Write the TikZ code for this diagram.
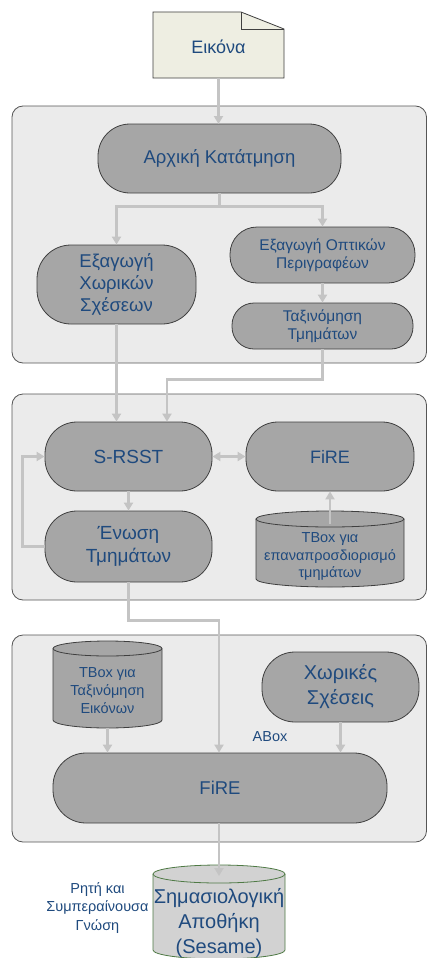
\documentclass[tikz,border=0pt]{standalone}
\usepackage{fontspec}
\setmainfont{Liberation Sans}
\usetikzlibrary{arrows.meta,calc}
\definecolor{txtblue}{HTML}{1F4A7E}
\definecolor{panelfill}{HTML}{EBEBEB}
\definecolor{panelline}{HTML}{555555}
\definecolor{boxfill}{HTML}{A6A6A6}
\definecolor{boxline}{HTML}{3F3F3F}
\definecolor{arrowgray}{HTML}{C4C4C4}
\definecolor{docfill}{HTML}{EEEEE2}
\definecolor{semfill}{HTML}{D2D2D2}
\definecolor{semline}{HTML}{4F7A45}
\tikzset{
  panel/.style={fill=panelfill,draw=panelline,line width=0.8pt,rounded corners=11pt},
  pill/.style={draw=boxline,fill=boxfill,line width=0.8pt,align=center,text=txtblue,inner sep=0pt},
  cylbox/.style={draw=boxline,fill=boxfill,line width=0.8pt},
  lbl/.style={text=txtblue,align=center,inner sep=0pt},
  conn/.style={draw=arrowgray,line width=2.6pt,-{Triangle[width=9pt,length=8pt]}},
  plainconn/.style={draw=arrowgray,line width=2.6pt},
  dconn/.style={draw=arrowgray,line width=2.6pt,{Triangle[width=9pt,length=8pt]}-{Triangle[width=9pt,length=8pt]}},
}
\begin{document}
\begin{tikzpicture}[x=1pt,y=-1pt]
\clip (0,0) rectangle (427,958);
\useasboundingbox (0,0) rectangle (427,958);
\fill[white] (0,0) rectangle (427,958);

% panels
\path[panel] (12,106) rectangle (426.5,363);
\path[panel] (12,394) rectangle (426.5,600);
\path[panel] (12,635) rectangle (426.5,842);

% document
\draw[fill=docfill,draw=boxline,line width=0.8pt] (153,12) -- (241,12) -- (284,29) -- (284,78) -- (153,78) -- cycle;
\draw[boxline,line width=0.8pt] (241,12) -- (241,29) -- (284,29);
\node[lbl,font=\fontsize{18}{20}\selectfont] (eikona) at (218.5,47) {Εικόνα};
\coordinate (eikonab) at (218.5,78);

% panel 1 nodes
\node[pill,rounded corners=32pt,minimum width=243pt,minimum height=69pt,font=\fontsize{18.5}{21}\selectfont] (arxiki) at (219.5,158.5) {Αρχική Κατάτμηση};
\node[pill,rounded corners=34pt,minimum width=159pt,minimum height=79pt,font=\fontsize{18.5}{22}\selectfont] (xwr) at (116.5,284.5) {Εξαγωγή\\Χωρικών\\Σχέσεων};
\node[pill,rounded corners=27pt,minimum width=185pt,minimum height=56pt,font=\fontsize{15.5}{18}\selectfont] (opt) at (322.5,255) {Εξαγωγή Οπτικών\\Περιγραφέων};
\node[pill,rounded corners=22pt,minimum width=181pt,minimum height=46pt,font=\fontsize{15.5}{18}\selectfont] (tax) at (322.5,326) {Ταξινόμηση\\Τμημάτων};

% panel 2 nodes
\node[pill,rounded corners=32pt,minimum width=167pt,minimum height=69pt,font=\fontsize{19}{22}\selectfont] (srsst) at (128.5,456.5) {S-RSST};
\node[pill,rounded corners=32pt,minimum width=168pt,minimum height=69pt,font=\fontsize{18}{22}\selectfont] (fire) at (330,456.5) {FiRE};
\node[pill,rounded corners=32pt,minimum width=167pt,minimum height=71pt,font=\fontsize{19}{23}\selectfont] (enosi) at (128.5,546.5) {Ένωση\\Τμημάτων};

% cylinder 1
\fill[boxfill] (256,519) -- (256,579) arc[start angle=180,end angle=0,x radius=74,y radius=8] -- (404,519) -- cycle;
\draw[boxline,line width=0.8pt] (256,519) -- (256,579) arc[start angle=180,end angle=0,x radius=74,y radius=8] -- (404,519);
\draw[cylbox] (330,519) ellipse[x radius=74,y radius=8];
\node[lbl,font=\fontsize{14.5}{17.5}\selectfont] (tbox1) at (330,557) {TBox για\\επαναπροσδιορισμό\\τμημάτων};
\coordinate (tbox1top) at (330,524);

% panel 3 nodes
\fill[boxfill] (53,648.5) -- (53,720) arc[start angle=180,end angle=0,x radius=54.5,y radius=8] -- (162,648.5) -- cycle;
\draw[boxline,line width=0.8pt] (53,648.5) -- (53,720) arc[start angle=180,end angle=0,x radius=54.5,y radius=8] -- (162,648.5);
\draw[cylbox] (107.5,648.5) ellipse[x radius=54.5,y radius=7.5];
\node[lbl,font=\fontsize{14.5}{18}\selectfont] (tbox2) at (107.5,691) {TBox για\\Ταξινόμηση\\Εικόνων};
\coordinate (tbox2b) at (107.5,728);

\node[pill,rounded corners=33pt,minimum width=157pt,minimum height=70pt,font=\fontsize{20}{25}\selectfont] (xsx) at (340.5,687) {Χωρικές\\Σχέσεις};
\node[lbl,font=\fontsize{14.5}{17}\selectfont] (abox) at (270,737) {ABox};
\node[pill,rounded corners=33pt,minimum width=334pt,minimum height=70pt,font=\fontsize{18.5}{22}\selectfont] (fire2) at (220,788) {FiRE};

% storage cylinder
\fill[semfill] (153,874) -- (153,950) arc[start angle=180,end angle=0,x radius=66,y radius=9] -- (285,874) -- cycle;
\draw[semline,line width=0.8pt] (153,874) -- (153,950) arc[start angle=180,end angle=0,x radius=66,y radius=9] -- (285,874);
\draw[semline,fill=semfill,line width=0.8pt] (219,874) ellipse[x radius=66,y radius=9];
\node[lbl,font=\fontsize{20}{25}\selectfont] (sem) at (219,923) {Σημασιολογική\\Αποθήκη\\(Sesame)};
\coordinate (semtop) at (219,876);
\node[lbl,font=\fontsize{14.5}{18.5}\selectfont] (gnosi) at (97.5,908) {Ρητή και\\Συμπεραίνουσα\\Γνώση};

% connectors
\draw[conn] (eikonab) -- (218.5,124);
\draw[conn] (arxiki.south) -- ++(0,13) -| (xwr.north);
\draw[conn] (arxiki.south) -- ++(0,13) -| (opt.north);
\draw[conn] (opt.south) -- (tax.north);
\draw[conn] (xwr.south) -- (xwr.south |- srsst.north);
\draw[conn] (tax.south) -- ++(0,30) -| ([xshift=38.5pt]srsst.north);
\draw[dconn] (srsst.east) -- (fire.west);
\draw[conn] (srsst.south) -- (enosi.north);
\draw[conn] (enosi.west) -- ++(-22,0) |- (srsst.west);
\draw[conn] (tbox1top) -- (fire.south);
\draw[conn] (enosi.south) -- ++(0,38) -| ([xshift=-1pt]fire2.north);
\draw[conn] (tbox2b) -- (tbox2b |- fire2.north);
\draw[conn] (xsx.south) -- (xsx.south |- fire2.north);
\draw[conn] ([xshift=-1pt]fire2.south) -- (semtop);
\end{tikzpicture}
\end{document}
